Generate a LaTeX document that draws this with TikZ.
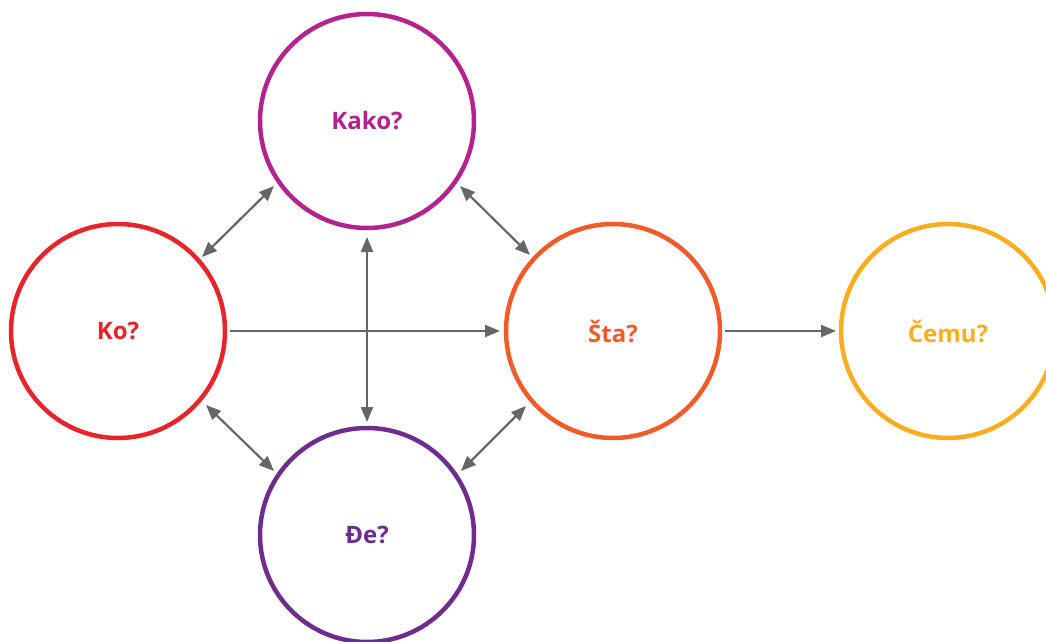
\documentclass[tikz,border=0pt]{standalone}
\usepackage{fontspec}
\setmainfont{Open Sans}
\usetikzlibrary{arrows.meta,calc}
\definecolor{ckako}{HTML}{B3228F}
\definecolor{cko}{HTML}{E8242B}
\definecolor{csta}{HTML}{F15A29}
\definecolor{ccemu}{HTML}{FAAD1E}
\definecolor{cde}{HTML}{6E2C8F}
\definecolor{carr}{HTML}{666666}
\tikzset{
  bubble/.style={circle, draw=#1, line width=4.5pt, minimum size=214pt, inner sep=0pt,
    text=#1, font=\fontsize{24}{28}\selectfont\bfseries},
  conn/.style={draw=carr, line width=2.2pt, -{Triangle[length=15pt,width=12pt]}},
  bconn/.style={draw=carr, line width=2.2pt, {Triangle[length=15pt,width=12pt]}-{Triangle[length=15pt,width=12pt]}}
}
\begin{document}
\begin{tikzpicture}[x=1pt,y=-1pt]
\useasboundingbox (0,0) rectangle (1046,642);
\node[bubble=ckako] (kako) at (367,121) {Kako?};
\node[bubble=cko] (ko) at (118,331) {Ko?};
\node[bubble=csta] (sta) at (613,331) {Šta?};
\node[bubble=ccemu] (cemu) at (948,331) {Čemu?};
\node[bubble=cde] (de) at (367,535) {Đe?};
% endpoints
\coordinate (k1) at ($(ko)+(84,-74)$);
\coordinate (a1) at ($(kako)+(-93,65)$);
\coordinate (a2) at ($(kako)+(93,65)$);
\coordinate (s1) at ($(sta)+(-83,-76)$);
\coordinate (k2) at ($(ko)+(88,74)$);
\coordinate (d1) at ($(de)+(-93,-64)$);
\coordinate (s2) at ($(sta)+(-87,75)$);
\coordinate (d2) at ($(de)+(94,-64)$);
\coordinate (a3) at ($(kako)+(0,116)$);
\coordinate (d3) at ($(de)+(0,-113)$);
\coordinate (k3) at ($(ko)+(112,0)$);
\coordinate (s3) at ($(sta)+(-113,0)$);
\coordinate (s4) at ($(sta)+(112,0)$);
\coordinate (c1) at ($(cemu)+(-112,0)$);
\draw[bconn] (k1) -- (a1);
\draw[bconn] (a2) -- (s1);
\draw[bconn] (k2) -- (d1);
\draw[bconn] (s2) -- (d2);
\draw[bconn] (a3) -- (d3);
\draw[conn] (k3) -- (s3);
\draw[conn] (s4) -- (c1);
\end{tikzpicture}
\end{document}
